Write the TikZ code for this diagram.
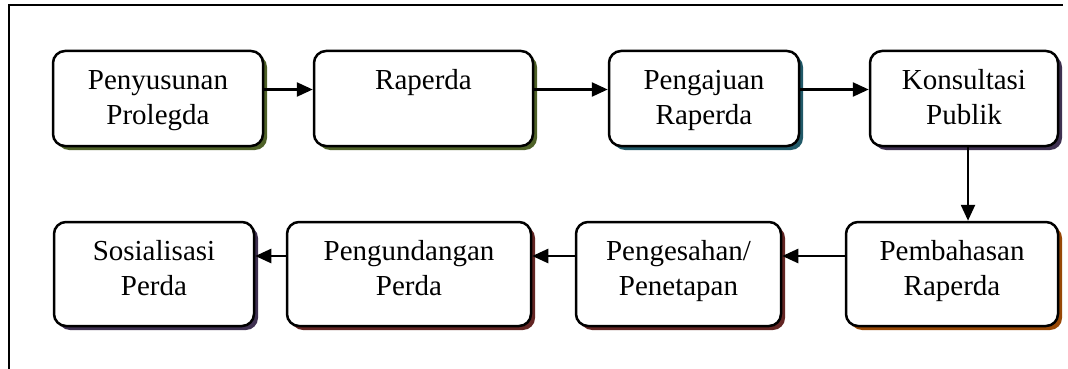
\documentclass[tikz,border=0pt]{standalone}
\usepackage{fontspec}
\setmainfont{Liberation Serif}
\usetikzlibrary{arrows.meta,shadows}
\definecolor{olv}{HTML}{4F6228}
\definecolor{tea}{HTML}{215968}
\definecolor{pur}{HTML}{3F3151}
\definecolor{org}{HTML}{984806}
\definecolor{drd}{HTML}{632523}
\newcommand\lnst{\rule[-7pt]{0pt}{34pt}}
\tikzset{
  box/.style={draw, line width=2.5pt, rounded corners=12pt, fill=white, inner sep=0pt,
    drop shadow={shadow xshift=4pt, shadow yshift=-4pt, fill=#1, opacity=1}},
  txt/.style={align=center, inner sep=0pt, anchor=north, font=\fontsize{29}{35}\selectfont},
  arr/.style={line width=2.5pt, -{Triangle[length=16pt,width=14pt]}},
  frame/.style={line width=2pt}
}
\begin{document}
\begin{tikzpicture}[x=1pt,y=-1pt]
\useasboundingbox (0,0) rectangle (1068,369);
\draw[frame] (9,369) -- (9,5) -- (1063,5);
% row 1
\node[box=olv, minimum width=210pt, minimum height=95pt] (b1) at (158,98.5) {};
\node[box=olv, minimum width=219pt, minimum height=95pt] (b2) at (423.5,98.5) {};
\node[box=tea, minimum width=190pt, minimum height=95pt] (b3) at (704,98.5) {};
\node[box=pur, minimum width=188pt, minimum height=95pt] (b4) at (964,98.5) {};
% row 2
\node[box=org, minimum width=212pt, minimum height=104pt] (b5) at (952,274) {};
\node[box=drd, minimum width=205pt, minimum height=104pt] (b6) at (678.5,274) {};
\node[box=drd, minimum width=244pt, minimum height=104pt] (b7) at (409,274) {};
\node[box=pur, minimum width=200pt, minimum height=104pt] (b8) at (154,274) {};
% texts
\node[txt] (t1) at ([yshift=-13pt]b1.north) {\lnst Penyusunan\\\lnst Prolegda};
\node[txt] (t2) at ([yshift=-13pt]b2.north) {\lnst Raperda};
\node[txt] (t3) at ([yshift=-13pt]b3.north) {\lnst Pengajuan\\\lnst Raperda};
\node[txt] (t4) at ([yshift=-13pt]b4.north) {\lnst Konsultasi\\\lnst Publik};
\node[txt] (t5) at ([yshift=-13pt]b5.north) {\lnst Pembahasan\\\lnst Raperda};
\node[txt] (t6) at ([yshift=-13pt]b6.north) {\lnst Pengesahan/\\\lnst Penetapan};
\node[txt] (t7) at ([yshift=-13pt]b7.north) {\lnst Pengundangan\\\lnst Perda};
\node[txt] (t8) at ([yshift=-13pt]b8.north) {\lnst Sosialisasi\\\lnst Perda};
% connectors
\draw[arr] ([yshift=9pt]b1.east) -- ([yshift=9pt]b2.west);
\draw[arr] ([yshift=9pt]b2.east) -- ([yshift=9pt]b3.west);
\draw[arr] ([yshift=9pt]b3.east) -- ([yshift=9pt]b4.west);
\draw[arr] ([xshift=4pt]b4.south) -- ([xshift=4pt]b4.south |- b5.north);
\draw[arr] ([yshift=18pt]b5.west) -- ([yshift=18pt]b6.east);
\draw[arr] ([yshift=18pt]b6.west) -- ([yshift=18pt]b7.east);
\draw[arr] ([yshift=18pt]b7.west) -- ([yshift=18pt]b8.east);
\end{tikzpicture}
\end{document}
